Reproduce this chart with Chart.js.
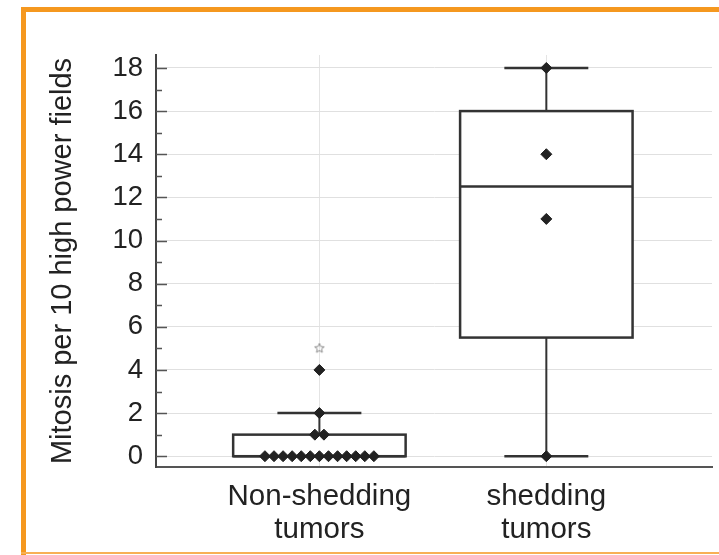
<!DOCTYPE html>
<html>
<head>
<meta charset="utf-8">
<script src="https://cdn.jsdelivr.net/npm/chart.js@4.4.1/dist/chart.umd.min.js"></script>
<style>
  html, body { margin: 0; padding: 0; background: #fff; }
  #wrap { position: relative; width: 719px; height: 555px; overflow: hidden; }
  #chart { position: absolute; left: 0; top: 0; }
  .frame { position: absolute; background: #f5981f; }
</style>
</head>
<body>
<div id="wrap">
  <canvas id="chart" width="719" height="555"></canvas>
  <div class="frame" style="left:21px; top:7px; width:698px; height:5px;"></div>
  <div class="frame" style="left:21px; top:7px; width:5px; height:548px;"></div>
  <div class="frame" style="left:21px; top:552px; width:698px; height:2px; background:#f8b055;"></div>
</div>
<script>
// groups along the x axis (two-line labels)
const categories = [['Non-shedding', 'tumors'], ['shedding', 'tumors']];

// box summary per group
const q1 = [0, 5.5];
const median = [0, 12.5];
const q3 = [1, 16];
const whiskerLow = [0, 0];
const whiskerHigh = [2, 18];

// individual observations
const nonSheddingPoints = [0, 0, 0, 0, 0, 0, 0, 0, 0, 0, 0, 0, 0, 1, 1, 2, 4];
const sheddingPoints = [0, 11, 14, 18];
const nonSheddingOutliers = [5];
const sheddingOutliers = [];

const yTicks = [0, 1, 2, 3, 4, 5, 6, 7, 8, 9, 10, 11, 12, 13, 14, 15, 16, 17, 18];

const INK = '#333333';
const FONT = 'Liberation Sans, Arial, Helvetica, sans-serif';

// spread equal values side by side around the group centre
function dodge(values, group, step) {
  const seen = {};
  const counts = {};
  values.forEach(v => { counts[v] = (counts[v] || 0) + 1; });
  return values.map(v => {
    const i = seen[v] || 0;
    seen[v] = i + 1;
    return { x: group + (i - (counts[v] - 1) / 2) * step, y: v };
  });
}

// small outlined five-point star used for the outlier marker
function starImage(r) {
  const c = document.createElement('canvas');
  c.width = c.height = r * 2 + 2;
  const g = c.getContext('2d');
  g.strokeStyle = '#8a8a8a';
  g.lineWidth = 1;
  g.beginPath();
  for (let i = 0; i < 10; i++) {
    const rad = i % 2 === 0 ? r : r * 0.45;
    const a = -Math.PI / 2 + i * Math.PI / 5;
    const px = r + 1 + rad * Math.cos(a);
    const py = r + 1 + rad * Math.sin(a);
    if (i === 0) g.moveTo(px, py); else g.lineTo(px, py);
  }
  g.closePath();
  g.stroke();
  return c;
}

const boxPlugin = {
  id: 'boxes',
  beforeDatasetsDraw(chart) {
    const { ctx, scales: { x, y } } = chart;
    ctx.save();
    for (let g = 0; g < categories.length; g++) {
      const c = g + 1;
      const xl = x.getPixelForValue(c - 0.38);
      const xr = x.getPixelForValue(c + 0.38);
      const xc = x.getPixelForValue(c);
      const cl = x.getPixelForValue(c - 0.185);
      const cr = x.getPixelForValue(c + 0.185);
      const yq1 = y.getPixelForValue(q1[g]);
      const yq3 = y.getPixelForValue(q3[g]);
      const ymed = y.getPixelForValue(median[g]);
      const ylo = y.getPixelForValue(whiskerLow[g]);
      const yhi = y.getPixelForValue(whiskerHigh[g]);

      ctx.strokeStyle = INK;
      // whiskers
      ctx.lineWidth = 2;
      ctx.beginPath();
      ctx.moveTo(xc, yq3); ctx.lineTo(xc, yhi);
      ctx.moveTo(xc, yq1); ctx.lineTo(xc, ylo);
      ctx.stroke();
      ctx.lineWidth = 2.5;
      ctx.beginPath();
      ctx.moveTo(cl, yhi); ctx.lineTo(cr, yhi);
      if (whiskerLow[g] < q1[g]) { ctx.moveTo(cl, ylo); ctx.lineTo(cr, ylo); }
      ctx.stroke();
      // box
      ctx.fillStyle = '#ffffff';
      ctx.fillRect(xl, yq3, xr - xl, yq1 - yq3);
      ctx.strokeRect(xl, yq3, xr - xl, yq1 - yq3);
      ctx.beginPath();
      ctx.moveTo(xl, ymed); ctx.lineTo(xr, ymed);
      ctx.stroke();
    }
    ctx.restore();
  },
  afterDraw(chart) {
    // inward tick marks on the y axis
    const { ctx, scales: { y } } = chart;
    ctx.save();
    ctx.strokeStyle = '#555555';
    ctx.lineWidth = 1.5;
    ctx.beginPath();
    yTicks.forEach(v => {
      const py = Math.round(y.getPixelForValue(v)) + 0.5;
      const len = v % 2 === 0 ? 11 : 6;
      ctx.moveTo(y.right, py);
      ctx.lineTo(y.right + len, py);
    });
    ctx.stroke();
    ctx.restore();
  }
};

new Chart(document.getElementById('chart'), {
  type: 'scatter',
  data: {
    datasets: [
      {
        data: dodge(nonSheddingPoints, 1, 0.04),
        pointStyle: 'rectRot',
        pointRadius: 5.5,
        backgroundColor: '#222222',
        borderColor: '#222222',
        borderWidth: 1
      },
      {
        data: dodge(sheddingPoints, 2, 0.04),
        pointStyle: 'rectRot',
        pointRadius: 5.5,
        backgroundColor: '#222222',
        borderColor: '#222222',
        borderWidth: 1
      },
      {
        data: dodge(nonSheddingOutliers, 1, 0.04).concat(dodge(sheddingOutliers, 2, 0.04)),
        pointStyle: starImage(5),
        pointRadius: 5
      }
    ]
  },
  options: {
    responsive: false,
    animation: false,
    layout: { padding: { top: 55, right: 7, left: 0, bottom: 0 } },
    plugins: { legend: { display: false }, tooltip: { enabled: false } },
    scales: {
      x: {
        type: 'linear',
        min: 0.28,
        max: 2.73,
        afterBuildTicks(scale) { scale.ticks = [{ value: 1 }, { value: 2 }]; },
        afterFit(scale) { scale.height = 88; },
        grid: { color: '#e4e4e4', lineWidth: 1, drawTicks: false },
        border: { display: true, color: '#555555', width: 2 },
        ticks: {
          padding: 14,
          color: '#222222',
          font: { family: FONT, size: 29.5, lineHeight: 1.1 },
          callback: v => categories[v - 1] || ''
        }
      },
      y: {
        min: -0.5,
        max: 18.6,
        afterBuildTicks(scale) { scale.ticks = yTicks.map(v => ({ value: v })); },
        afterFit(scale) { scale.width = 156; },
        grid: {
          color: ctx => (ctx.tick && ctx.tick.value % 2 === 0 ? '#e0e0e0' : 'rgba(0,0,0,0)'),
          lineWidth: 1,
          drawTicks: false
        },
        border: { display: true, color: '#444444', width: 2 },
        ticks: {
          padding: 13,
          color: '#222222',
          font: { family: FONT, size: 27.5 },
          callback: v => (v % 2 === 0 ? String(v) : '')
        },
        title: {
          display: true,
          text: 'Mitosis per 10 high power fields',
          color: '#222222',
          font: { family: FONT, size: 29 },
          padding: { top: 46, bottom: 0 }
        }
      }
    }
  },
  plugins: [boxPlugin]
});
</script>
</body>
</html>
